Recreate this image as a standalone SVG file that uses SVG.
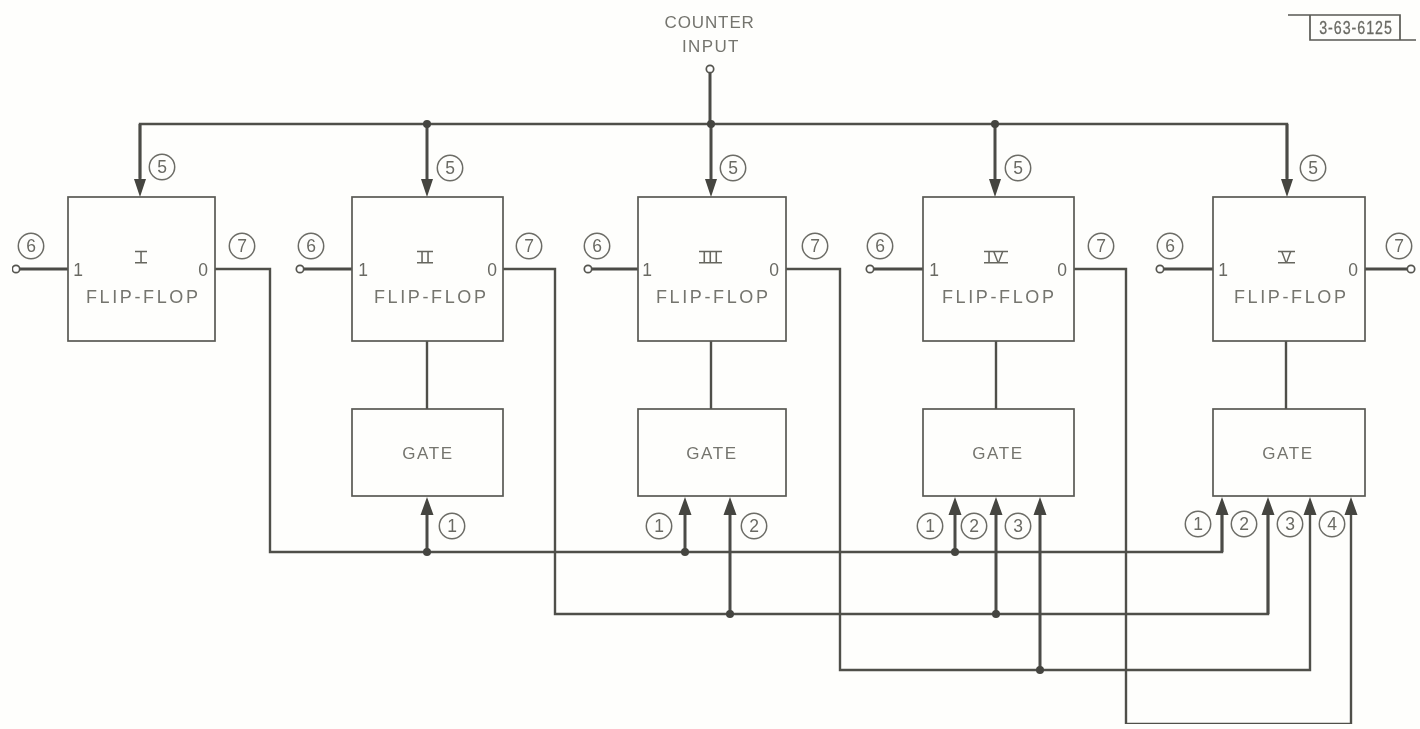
<svg xmlns="http://www.w3.org/2000/svg" width="1420" height="729" viewBox="0 0 1420 729">
<defs>
<style>
.box{fill:none;stroke:#5a5a54;stroke-width:1.7}
.w{fill:none;stroke:#50504a;stroke-width:2.4;stroke-linejoin:miter}
.wt{fill:none;stroke:#4c4c46;stroke-width:3}
.t{font-family:"Liberation Sans",Arial,sans-serif;font-size:17px;fill:#74746e;text-anchor:middle;letter-spacing:1.6px}
.f{font-family:"Liberation Sans",Arial,sans-serif;font-size:18px;fill:#74746e;text-anchor:middle}
.p{font-family:"Liberation Sans",Arial,sans-serif;font-size:17.5px;fill:#6a6a64;text-anchor:middle}
.n{font-family:"Liberation Sans",Arial,sans-serif;font-size:17.5px;fill:#6a6a64;text-anchor:middle}
.r{font-family:"Liberation Sans",Arial,sans-serif;font-size:16.5px;fill:#66665f;text-anchor:middle;letter-spacing:1.4px}
.s{fill:none;stroke:#66665f;stroke-width:1.5}
.c{fill:none;stroke:#6c6c66;stroke-width:1.5}
.o{fill:#fff;stroke:#55554f;stroke-width:1.7}
.d{fill:#45453f}
</style>
<filter id="scan" x="0" y="0" width="100%" height="100%"><feGaussianBlur stdDeviation="0.4"/></filter>
</defs>
<rect width="1420" height="729" fill="#fefefc"/>
<g filter="url(#scan)">
<g id="connectors">
<path class="wt" d="M710 72V124"/>
<path class="w" d="M711 124H140V178M711 124H1287V178"/>
<path class="wt" d="M140 124V180M427 124V180M711 124V180M995 124V180M1287 124V180"/>
<path class="d" d="M134 179H146L140 197ZM421 179H433L427 197ZM705 179H717L711 197ZM989 179H1001L995 197ZM1281 179H1293L1287 197Z"/>
<path class="w" d="M427 341V409M711 341V409M996 341V409M1286 341V409"/>
<path class="wt" d="M20 269H68M304 269H352M591 269H638M874 269H923M1164 269H1213M1365 269H1407"/>
<path class="w" d="M215 269H270V552H1222V513"/>
<path class="w" d="M503 269H555V614H1268V513"/>
<path class="w" d="M786 269H840V670H1310V513"/>
<path class="w" d="M1074 269H1126V724H1351V513"/>
<path class="wt" d="M427 552V513M685 552V513M955 552V513M730 614V513M996 614V513M1040 670V513M1222 552V513M1268 614V513"/>
<path class="d" d="M420.500 515H433.500L427 497ZM678.500 515H691.500L685 497ZM723.500 515H736.500L730 497ZM948.500 515H961.500L955 497ZM989.500 515H1002.500L996 497ZM1033.500 515H1046.500L1040 497ZM1215.500 515H1228.500L1222 497ZM1261.500 515H1274.500L1268 497ZM1303.500 515H1316.500L1310 497ZM1344.500 515H1357.500L1351 497Z"/>
<circle class="d" cx="427" cy="124" r="4"/><circle class="d" cx="711" cy="124" r="4"/><circle class="d" cx="995" cy="124" r="4"/>
<circle class="d" cx="427" cy="552" r="4"/><circle class="d" cx="685" cy="552" r="4"/><circle class="d" cx="955" cy="552" r="4"/>
<circle class="d" cx="730" cy="614" r="4"/><circle class="d" cx="996" cy="614" r="4"/><circle class="d" cx="1040" cy="670" r="4"/>
<circle class="o" cx="710" cy="69" r="3.700"/>
<circle class="o" cx="16" cy="269" r="3.700"/><circle class="o" cx="300" cy="269" r="3.700"/><circle class="o" cx="588" cy="269" r="3.700"/><circle class="o" cx="870" cy="269" r="3.700"/><circle class="o" cx="1160" cy="269" r="3.700"/><circle class="o" cx="1411" cy="269" r="3.700"/>
</g>
<g id="ff1"><rect class="box" x="68" y="197" width="147" height="144"/><text class="r" x="141.700" y="263">I</text><path class="s" d="M135 251.500H147M135 262.800H147"/><text class="p" x="78" y="276">1</text><text class="p" x="203" y="276">0</text><text class="f" x="142" y="303" textLength="112">FLIP-FLOP</text></g>
<g id="ff2"><rect class="box" x="352" y="197" width="151" height="144"/><text class="r" x="425.700" y="263">II</text><path class="s" d="M417 251.500H433M417 262.800H433"/><text class="p" x="363" y="276">1</text><text class="p" x="492" y="276">0</text><text class="f" x="430" y="303" textLength="112">FLIP-FLOP</text></g>
<g id="ff3"><rect class="box" x="638" y="197" width="148" height="144"/><text class="r" x="711" y="263">III</text><path class="s" d="M699 251.500H722M699 262.800H722"/><text class="p" x="647" y="276">1</text><text class="p" x="774" y="276">0</text><text class="f" x="712" y="303" textLength="112">FLIP-FLOP</text></g>
<g id="ff4"><rect class="box" x="923" y="197" width="151" height="144"/><text class="r" x="996" y="263">IV</text><path class="s" d="M984 251.500H1008M984 262.800H1008"/><text class="p" x="934" y="276">1</text><text class="p" x="1062" y="276">0</text><text class="f" x="998" y="303" textLength="112">FLIP-FLOP</text></g>
<g id="ff5"><rect class="box" x="1213" y="197" width="152" height="144"/><text class="r" x="1287" y="263">V</text><path class="s" d="M1278 251.500H1295M1278 262.800H1295"/><text class="p" x="1223" y="276">1</text><text class="p" x="1353" y="276">0</text><text class="f" x="1290" y="303" textLength="112">FLIP-FLOP</text></g>
<g id="gate2"><rect class="box" x="352" y="409" width="151" height="87"/><text class="t" x="428" y="459">GATE</text></g>
<g id="gate3"><rect class="box" x="638" y="409" width="148" height="87"/><text class="t" x="712" y="459">GATE</text></g>
<g id="gate4"><rect class="box" x="923" y="409" width="151" height="87"/><text class="t" x="998" y="459">GATE</text></g>
<g id="gate5"><rect class="box" x="1213" y="409" width="152" height="87"/><text class="t" x="1288" y="459">GATE</text></g>
<g id="labels">
<text class="t" x="710" y="28" textLength="91">COUNTER</text><text class="t" x="711" y="52" textLength="58">INPUT</text>
<path class="box" d="M1288 15H1400V40M1310 15V40H1416"/>
<text class="n" transform="translate(1356 34) scale(.75 1)" x="0" y="0" style="font-size:19px;letter-spacing:1.3px;stroke:#6a6a64;stroke-width:.3">3-63-6125</text>
<g id="c5"><circle class="c" cx="162" cy="167" r="12.700"/><text class="n" x="162" y="173">5</text><circle class="c" cx="450" cy="168" r="12.700"/><text class="n" x="450" y="174">5</text><circle class="c" cx="733" cy="168" r="12.700"/><text class="n" x="733" y="174">5</text><circle class="c" cx="1018" cy="168" r="12.700"/><text class="n" x="1018" y="174">5</text><circle class="c" cx="1313" cy="168" r="12.700"/><text class="n" x="1313" y="174">5</text></g>
<g id="c6"><circle class="c" cx="31" cy="246" r="12.700"/><text class="n" x="31" y="252">6</text><circle class="c" cx="311" cy="246" r="12.700"/><text class="n" x="311" y="252">6</text><circle class="c" cx="597" cy="246" r="12.700"/><text class="n" x="597" y="252">6</text><circle class="c" cx="880" cy="246" r="12.700"/><text class="n" x="880" y="252">6</text><circle class="c" cx="1170" cy="246" r="12.700"/><text class="n" x="1170" y="252">6</text></g>
<g id="c7"><circle class="c" cx="242" cy="246" r="12.700"/><text class="n" x="242" y="252">7</text><circle class="c" cx="529" cy="246" r="12.700"/><text class="n" x="529" y="252">7</text><circle class="c" cx="815" cy="246" r="12.700"/><text class="n" x="815" y="252">7</text><circle class="c" cx="1101" cy="246" r="12.700"/><text class="n" x="1101" y="252">7</text><circle class="c" cx="1399" cy="246" r="12.700"/><text class="n" x="1399" y="252">7</text></g>
<g id="cg"><circle class="c" cx="452" cy="526" r="12.700"/><text class="n" x="452" y="532">1</text><circle class="c" cx="659" cy="526" r="12.700"/><text class="n" x="659" y="532">1</text><circle class="c" cx="754" cy="526" r="12.700"/><text class="n" x="754" y="532">2</text><circle class="c" cx="930" cy="526" r="12.700"/><text class="n" x="930" y="532">1</text><circle class="c" cx="974" cy="526" r="12.700"/><text class="n" x="974" y="532">2</text><circle class="c" cx="1018" cy="526" r="12.700"/><text class="n" x="1018" y="532">3</text><circle class="c" cx="1198" cy="524" r="12.700"/><text class="n" x="1198" y="530">1</text><circle class="c" cx="1244" cy="524" r="12.700"/><text class="n" x="1244" y="530">2</text><circle class="c" cx="1290" cy="524" r="12.700"/><text class="n" x="1290" y="530">3</text><circle class="c" cx="1332" cy="524" r="12.700"/><text class="n" x="1332" y="530">4</text></g>
</g>
</g>
</svg>
